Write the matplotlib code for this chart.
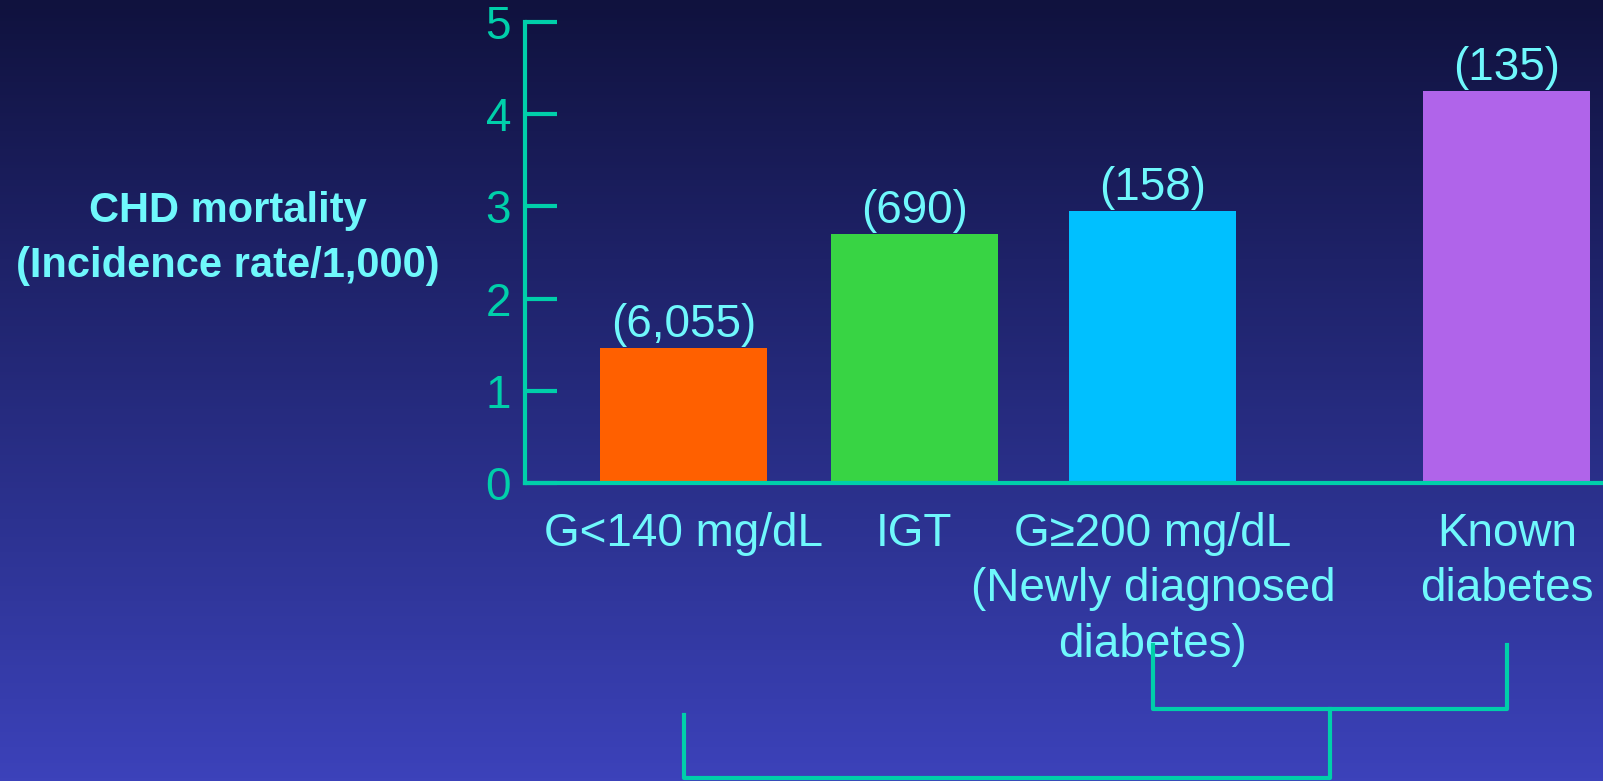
import numpy as np
import matplotlib
matplotlib.use('Agg')
import matplotlib.pyplot as plt
from matplotlib.colors import LinearSegmentedColormap

############################################################
# Data

categories = ['G<140 mg/dL', 'IGT', 'G\u2265200 mg/dL\n(Newly diagnosed\ndiabetes)', 'Known\ndiabetes']
mortality = [1.46, 2.70, 2.95, 4.25]
counts = ['(6,055)', '(690)', '(158)', '(135)']
yticks = [0, 1, 2, 3, 4, 5]
ylabel = 'CHD mortality\n(Incidence rate/1,000)'

############################################################
# Style / layout

bar_colors = ['#ff6000', '#38d444', '#00c0ff', '#b064ea']
axis_col = '#00cfaa'
text_col = '#6ff8fc'
bar_pos = [0.95, 2.33, 3.76, 5.88]   # bar centres, in bar widths
W, H = 1603, 781

plt.rcParams['font.family'] = ['Liberation Sans', 'DejaVu Sans']

fig = plt.figure(figsize=(W / 100, H / 100), dpi=100)

# gradient background
bg = fig.add_axes([0, 0, 1, 1], zorder=-10)
grad = np.linspace(0, 1, 256).reshape(-1, 1)
cmap = LinearSegmentedColormap.from_list('bg', ['#10123e', '#1e2268', '#2c3290', '#3c42ba'])
bg.imshow(grad, aspect='auto', cmap=cmap, extent=[0, 1, 0, 1], origin='upper')
bg.axis('off')

ax = fig.add_axes([525 / W, (H - 483) / H, (W - 525) / W, 461 / H])
ax.patch.set_alpha(0)

ax.bar(bar_pos, mortality, width=1.0, color=bar_colors, zorder=2)
for x, v, c in zip(bar_pos, mortality, counts):
    ax.annotate(c, (x, v), xytext=(0, 8), textcoords='offset points',
                ha='center', va='baseline', color=text_col, fontsize=33)

ax.set_xlim(0, (W - 525) / 167)
ax.set_ylim(0, 5)
ax.set_yticks(yticks)
ax.set_xticks(bar_pos)
ax.set_xticklabels(categories, color=text_col, fontsize=33, linespacing=1.33)

for s in ['top', 'right']:
    ax.spines[s].set_visible(False)
for s in ['left', 'bottom']:
    ax.spines[s].set_color(axis_col)
    ax.spines[s].set_linewidth(3)
    ax.spines[s].set_zorder(3)

ax.tick_params(axis='y', direction='in', length=23, width=3, color=axis_col,
               labelcolor=axis_col, labelsize=33, pad=10)
ax.tick_params(axis='x', length=0, pad=21)

# bracket lines under the categories
tr = ax.get_xaxis_transform()
upper_y, upper_h = -0.351, -0.490
lower_y, lower_h = -0.503, -0.640
mid = (bar_pos[2] + bar_pos[3]) / 2
ax.plot([bar_pos[2], bar_pos[2], bar_pos[3], bar_pos[3]], [upper_y, upper_h, upper_h, upper_y],
        transform=tr, clip_on=False, color=axis_col, lw=3)
ax.plot([bar_pos[0], bar_pos[0], mid, mid], [lower_y, lower_h, lower_h, upper_h],
        transform=tr, clip_on=False, color=axis_col, lw=3)

fig.text(228 / W, 1 - 238.5 / H, ylabel, ha='center', va='center', color=text_col,
         fontsize=30, fontweight='bold', linespacing=1.49)

fig.savefig('out.png', dpi=100)
